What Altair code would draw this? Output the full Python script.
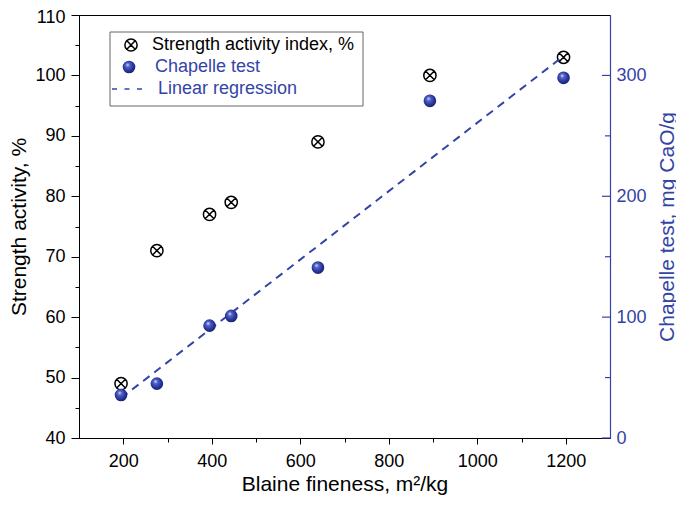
import altair as alt
import pandas as pd

# data
blaine = [195, 276, 395, 444, 640, 893, 1195]
strength = [49, 71, 77, 79, 89, 100, 103]
chapelle = [35.6, 45, 93, 101, 141, 279, 298]
reg_x = [195, 1195]
reg_y = [33, 316]
right_major = [0, 100, 200, 300]
right_minor = [50, 150, 250]
left_ticks = list(range(40, 115, 5))
x_ticks = list(range(200, 1300, 100))
legend_labels = ["Strength activity index, %", "Chapelle test", "Linear regression"]

W, H = 531, 423
FONT = "Liberation Sans"
BLUE = "#3344a6"

df = pd.DataFrame({"blaine": blaine, "strength": strength, "chapelle": chapelle})
reg = pd.DataFrame({"blaine": reg_x, "chapelle": reg_y})
rmaj = pd.DataFrame({"chapelle": right_major})
rmin = pd.DataFrame({"chapelle": right_minor})

sphere = {
    "gradient": "radial",
    "x1": 0.38, "y1": 0.32, "r1": 0.0,
    "x2": 0.45, "y2": 0.45, "r2": 0.6,
    "stops": [
        {"offset": 0.0, "color": "#f4f6ff"},
        {"offset": 0.25, "color": "#5566c8"},
        {"offset": 0.7, "color": "#26339a"},
        {"offset": 1.0, "color": "#141c66"},
    ],
}
cross_path = "M1,0A1,1 0 1,1 -1,0A1,1 0 1,1 1,0M-0.72,-0.72L0.72,0.72M-0.72,0.72L0.72,-0.72"

x_enc = alt.X(
    "blaine:Q",
    scale=alt.Scale(domain=[100, 1300], nice=False, zero=False),
    axis=alt.Axis(
        title="Blaine fineness, m²/kg",
        values=x_ticks,
        format="d",
        labelExpr="datum.value % 200 === 0 ? datum.label : ''",
        tickSize={"condition": {"test": "datum.value % 200 === 0", "value": 6}, "value": 4},
        grid=False, domainColor="black", tickColor="black", labelColor="black",
        labelFontSize=18, titleFontSize=21, labelPadding=8, titlePadding=3,
        labelFont=FONT, titleFont=FONT, titleFontWeight="normal",
        titleColor="black", labelFlush=False,
    ),
)

y_left = alt.Y(
    "strength:Q",
    scale=alt.Scale(domain=[40, 110], nice=False, zero=False),
    axis=alt.Axis(
        title="Strength activity, %",
        values=left_ticks,
        labelExpr="datum.value % 10 === 0 ? datum.label : ''",
        labelOffset={"condition": {"test": "datum.value === 110", "value": 2}, "value": 0},
        tickSize={"condition": {"test": "datum.value % 10 === 0", "value": 8}, "value": 4},
        grid=False, domainColor="black", tickColor="black", labelColor="black",
        labelFontSize=18, titleFontSize=21, labelPadding=6,
        labelFont=FONT, titleFont=FONT, titleFontWeight="normal", titleColor="black",
        titleX=-60, titleY=H / 2, titleAngle=270, titleAlign="center", titleBaseline="middle",
        labelFlush=False,
    ),
)

y_right = alt.Y(
    "chapelle:Q",
    scale=alt.Scale(domain=[0, 350], nice=False, zero=False),
    axis=alt.Axis(
        orient="right",
        title="Chapelle test, mg CaO/g",
        values=right_major,
        ticks=False,
        grid=False, domainColor=BLUE, labelColor=BLUE, titleColor=BLUE,
        labelFontSize=18, titleFontSize=21, labelPadding=6, domainWidth=1.2,
        labelFont=FONT, titleFont=FONT, titleFontWeight="normal",
        titleX=57, titleY=H / 2, titleAngle=270, titleAlign="center", titleBaseline="middle",
        labelFlush=False,
    ),
)

crosses = alt.Chart(df).mark_point(
    shape=cross_path, size=150, stroke="black", strokeWidth=1.5, filled=False, opacity=1
).encode(x=x_enc, y=y_left)

line = alt.Chart(reg).mark_line(color=BLUE, strokeWidth=2, strokeDash=[8, 6]).encode(
    x=x_enc, y=y_right
)
spheres = alt.Chart(df).mark_point(
    shape="circle", size=160, filled=True, fill=sphere, strokeWidth=0, opacity=1
).encode(x=x_enc, y=y_right)
maj = alt.Chart(rmaj).mark_rule(color=BLUE, strokeWidth=1.2).encode(
    y=y_right, x=alt.value(W - 8), x2=alt.value(W)
)
mino = alt.Chart(rmin).mark_rule(color=BLUE, strokeWidth=1.2).encode(
    y=y_right, x=alt.value(W - 5), x2=alt.value(W)
)
right_layer = alt.layer(maj, mino, line, spheres)

# legend
leg = pd.DataFrame({"label": legend_labels})
box = alt.Chart(leg.head(1)).mark_rect(fill="white", stroke="#666666", strokeWidth=1).encode(
    x=alt.value(31), x2=alt.value(284), y=alt.value(17), y2=alt.value(91)
)
leg_cross = alt.Chart(leg.head(1)).mark_point(
    shape=cross_path, size=150, stroke="black", strokeWidth=1.5, filled=False, opacity=1
).encode(x=alt.value(52), y=alt.value(30))
leg_sphere = alt.Chart(leg.head(1)).mark_point(
    shape="circle", size=160, filled=True, fill=sphere, strokeWidth=0, opacity=1
).encode(x=alt.value(50), y=alt.value(52))
leg_dash = alt.Chart(leg.head(1)).mark_rule(color=BLUE, strokeWidth=1.5, strokeDash=[5, 7.5]).encode(
    x=alt.value(33), x2=alt.value(63), y=alt.value(74)
)
t1 = alt.Chart(pd.DataFrame({"label": [legend_labels[0]]})).mark_text(
    align="left", baseline="middle", fontSize=18, font=FONT, color="black"
).encode(x=alt.value(73), y=alt.value(30), text="label:N")
t2 = alt.Chart(pd.DataFrame({"label": [legend_labels[1]]})).mark_text(
    align="left", baseline="middle", fontSize=18, font=FONT, color=BLUE
).encode(x=alt.value(76), y=alt.value(52), text="label:N")
t3 = alt.Chart(pd.DataFrame({"label": [legend_labels[2]]})).mark_text(
    align="left", baseline="middle", fontSize=18, font=FONT, color=BLUE
).encode(x=alt.value(79), y=alt.value(74), text="label:N")
legend = alt.layer(box, leg_cross, leg_sphere, leg_dash, t1, t2, t3)

chart = (
    alt.layer(crosses, right_layer, legend)
    .resolve_scale(y="independent")
    .properties(
        width=W, height=H,
        autosize=alt.AutoSizeParams(type="none"),
        padding={"left": 71, "top": 7, "right": 66, "bottom": 59},
        background="white",
    )
    .configure_view(stroke="black", strokeWidth=1)
)

chart.save("out.html", embed_options={"renderer": "svg", "actions": False})
